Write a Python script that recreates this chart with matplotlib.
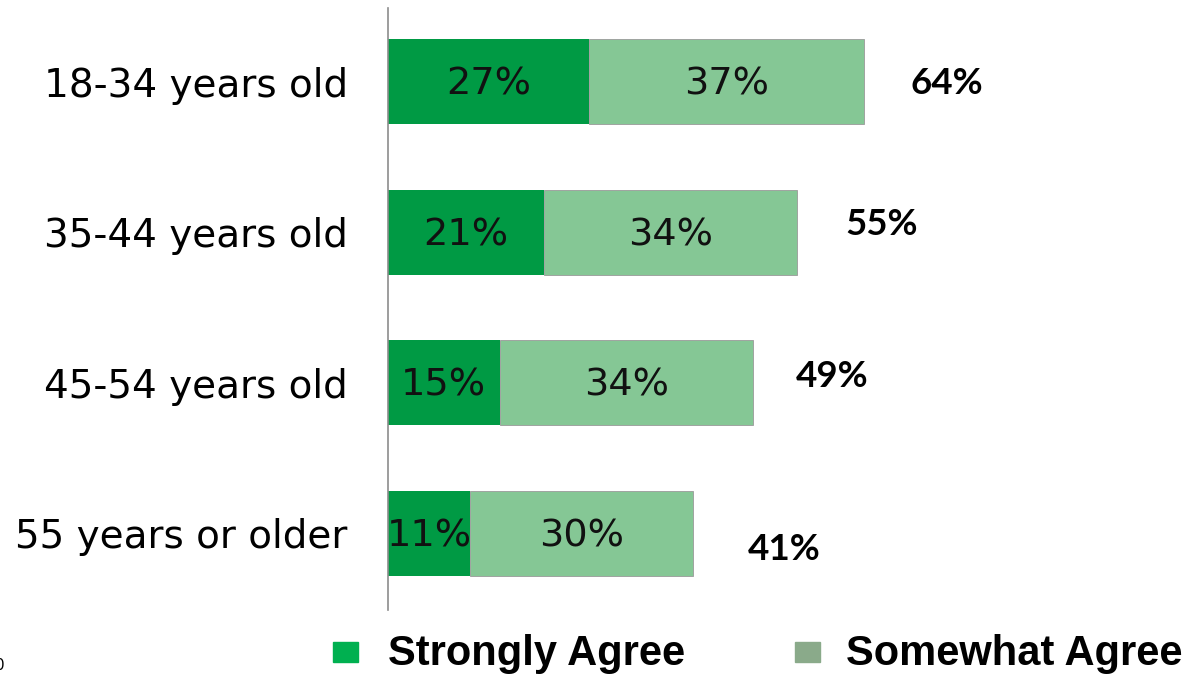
import matplotlib.pyplot as plt
from matplotlib.patches import Rectangle

# Data
groups = ['18-34 years old', '35-44 years old', '45-54 years old', '55 years or older']
strongly = [27, 21, 15, 11]
somewhat = [37, 34, 34, 30]
totals = [64, 55, 49, 41]
# label nudges (pixels) for the totals, they are not lined up in the original
total_dx = [46, 48, 43, 55]
total_dy = [-2, 8, 6, -16]

c_strong = '#009A44'
c_some = '#85C795'

plt.rcParams['font.family'] = ['DejaVu Sans']

fig = plt.figure(figsize=(12.02, 6.75), dpi=100)
ax = fig.add_axes([388 / 1202, 65 / 675, (1202 - 388) / 1202, 602 / 675])

y = list(range(len(groups)))
ax.barh(y, strongly, height=0.565, color=c_strong, label='Strongly Agree')
ax.barh(y, somewhat, left=strongly, height=0.565, color=c_some,
        edgecolor='#9a9a9a', linewidth=0.6, label='Somewhat Agree')

for i in y:
    ax.annotate(f'{strongly[i]}%', xy=(strongly[i] / 2, i), xytext=(0, -3),
                textcoords='offset pixels', ha='center', va='center',
                fontsize=27.5, color='#111111')
    ax.annotate(f'{somewhat[i]}%', xy=(strongly[i] + somewhat[i] / 2, i), xytext=(0, -3),
                textcoords='offset pixels', ha='center', va='center',
                fontsize=27.5, color='#111111')
    ax.annotate(f'{totals[i]}%', xy=(totals[i], i), xytext=(total_dx[i], total_dy[i]),
                textcoords='offset pixels', ha='left', va='center',
                fontsize=26.5, fontweight='bold', family=['Lato', 'DejaVu Sans'])

ax.set_xlim(0, (1202 - 388) / 7.44)
ax.set_ylim(3.51, -0.49)
ax.set_yticks(y)
ax.set_yticklabels(groups, fontsize=28)
ax.tick_params(axis='y', length=0, pad=29)
ax.set_xticks([])
for s in ['top', 'right', 'bottom']:
    ax.spines[s].set_visible(False)
ax.spines['left'].set_color('#8c8c8c')
ax.spines['left'].set_linewidth(1.2)

# legend, drawn by hand to match spacing
leg_font = ['Liberation Sans', 'DejaVu Sans']
fig.patches.append(Rectangle((333 / 1202, 13 / 675), 25 / 1202, 20 / 675,
                             transform=fig.transFigure, color='#00B050'))
fig.text(388 / 1202, 21 / 675, 'Strongly Agree', ha='left', va='center',
         fontsize=30, fontweight='bold', family=leg_font)
fig.patches.append(Rectangle((795 / 1202, 13 / 675), 25 / 1202, 20 / 675,
                             transform=fig.transFigure, color='#8AAA8A'))
fig.text(846 / 1202, 21 / 675, 'Somewhat Agree', ha='left', va='center',
         fontsize=30, fontweight='bold', family=leg_font)

# stray clipped tick label at the bottom left corner
fig.text(0, 10 / 675, '0', ha='center', va='center', fontsize=11)

fig.savefig('out.png', dpi=100)
